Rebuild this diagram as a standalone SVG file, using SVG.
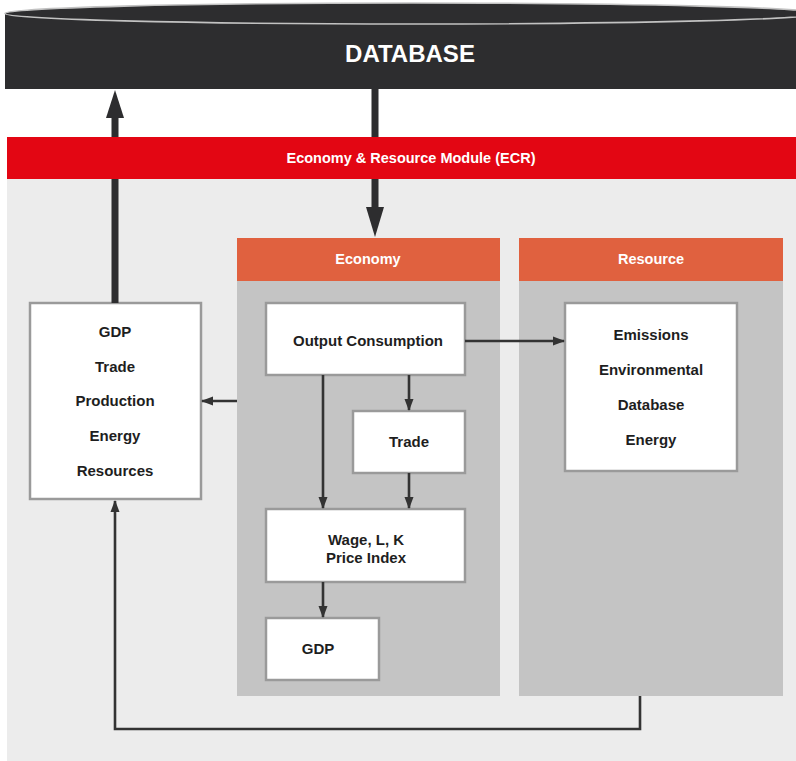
<svg xmlns="http://www.w3.org/2000/svg" width="796" height="761" viewBox="0 0 796 761">
<style>
.t{font-family:"Liberation Sans",Arial,sans-serif;font-weight:bold;text-anchor:middle;dominant-baseline:central}
.w{fill:#ffffff}
.k{fill:#1e1e1e;font-size:15px}
.box{fill:#ffffff;stroke:#9a9a9a;stroke-width:2.5}
.panel{fill:#c4c4c4}
.hdr{fill:#e0613f}
.thin{fill:none;stroke:#333333;stroke-width:2.6}
.thick{fill:#2d2d2f}
</style>
<defs>
<marker id="ah" markerUnits="userSpaceOnUse" markerWidth="12" markerHeight="10" refX="11" refY="5" orient="auto">
<path d="M0,0.5 L12,5 L0,9.5 Z" fill="#333333"/>
</marker>
</defs>
<rect x="0" y="0" width="796" height="761" fill="#ffffff"/>
<g id="database">
<rect x="5" y="13.5" width="820" height="75.5" fill="#2d2d2f"/>
<ellipse cx="412" cy="13.5" rx="407" ry="10.5" fill="#2d2d2f" stroke="#c2c2c2" stroke-width="1.6"/>
<text class="t w" x="410" y="53" font-size="24">DATABASE</text>
</g>
<g id="ecr-module">
<rect x="7" y="179" width="789" height="582" fill="#ececec"/>
<rect x="7" y="137" width="789" height="42" fill="#e30613"/>
<text class="t w" x="411" y="158" font-size="14.5">Economy &amp; Resource Module (ECR)</text>
</g>
<g id="economy">
<rect class="panel" x="237" y="238" width="263" height="458"/>
<rect class="hdr" x="237" y="238" width="263" height="43"/>
<text class="t w" x="368" y="259" font-size="14.5">Economy</text>
</g>
<g id="resource">
<rect class="panel" x="519" y="238" width="264" height="458"/>
<rect class="hdr" x="519" y="238" width="264" height="43"/>
<text class="t w" x="651" y="259" font-size="14.5">Resource</text>
</g>
<g id="summary">
<rect class="box" x="30" y="303" width="171" height="196"/>
<text class="t k" x="115" y="331">GDP</text>
<text class="t k" x="115" y="366">Trade</text>
<text class="t k" x="115" y="400">Production</text>
<text class="t k" x="115" y="435">Energy</text>
<text class="t k" x="115" y="470">Resources</text>
</g>
<g id="output-consumption">
<rect class="box" x="266" y="303" width="199" height="72"/>
<text class="t k" x="368" y="340">Output Consumption</text>
</g>
<g id="trade">
<rect class="box" x="353" y="411" width="112" height="62"/>
<text class="t k" x="409" y="441">Trade</text>
</g>
<g id="wage">
<rect class="box" x="266" y="509" width="199" height="73"/>
<text class="t k" x="366" y="539">Wage, L, K</text>
<text class="t k" x="366" y="557">Price Index</text>
</g>
<g id="gdp">
<rect class="box" x="266" y="618" width="113" height="62"/>
<text class="t k" x="318" y="648">GDP</text>
</g>
<g id="resource-box">
<rect class="box" x="565" y="303" width="172" height="168"/>
<text class="t k" x="651" y="334">Emissions</text>
<text class="t k" x="651" y="369">Environmental</text>
<text class="t k" x="651" y="404">Database</text>
<text class="t k" x="651" y="439">Energy</text>
</g>
<g id="connectors">
<rect class="thick" x="371.5" y="89" width="7" height="48"/>
<rect class="thick" x="371.5" y="179" width="7" height="32"/>
<polygon class="thick" points="366,207 384,207 375,237"/>
<rect class="thick" x="111.5" y="114" width="7" height="23"/>
<rect class="thick" x="111.5" y="179" width="7" height="124"/>
<polygon class="thick" points="106,118 124,118 115,90"/>
<line class="thin" x1="465" y1="341" x2="564" y2="341" marker-end="url(#ah)"/>
<line class="thin" x1="237" y1="401" x2="202" y2="401" marker-end="url(#ah)"/>
<line class="thin" x1="409" y1="375" x2="409" y2="410" marker-end="url(#ah)"/>
<line class="thin" x1="409" y1="473" x2="409" y2="508" marker-end="url(#ah)"/>
<line class="thin" x1="323" y1="375" x2="323" y2="508" marker-end="url(#ah)"/>
<line class="thin" x1="323" y1="582" x2="323" y2="617" marker-end="url(#ah)"/>
<polyline class="thin" points="640,696 640,729 115,729 115,501" marker-end="url(#ah)"/>
</g>
</svg>
